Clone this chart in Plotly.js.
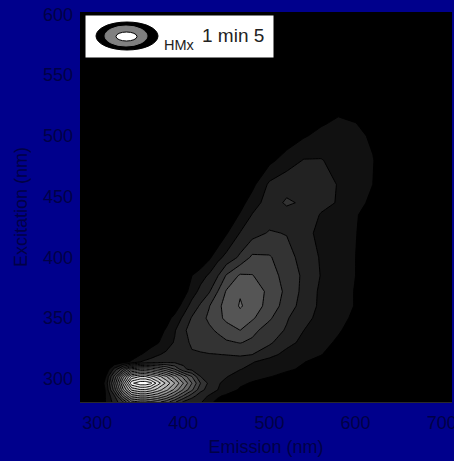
<!DOCTYPE html>
<html><head><meta charset="utf-8">
<script src="https://cdn.plot.ly/plotly-3.0.1.min.js"></script>
<style>html,body{margin:0;padding:0;background:#00008c;overflow:hidden}#c{width:454px;height:461px}</style>
</head><body><div id="c"></div>
<script>
const emission = [280,300,310,320,330,340,350,356,362,370,380,390,400,410,420,430,440,450,466,480,500,520,540,560,580,600,620,640,712];
const excitation = [281,286,291,296.5,302,308,314,320,330,340,350,360,372,385,400,420,435,445,460,480,500,510,520,602];
const r281 = [0,0,1.05,2.4,3.9,6.6,7,7,6.8,6.3,5.5,4.2,2.85,2.3,2.15,1.25,.75,.4,.1,0,0,0,0,0,0,0,0,0,0];
const r286 = [0,0,1.05,2.9,6.5,9.4,10,10,9.7,9.2,8.1,6.6,4.9,3.4,2.45,1.9,1.15,.8,.4,.1,0,0,0,0,0,0,0,0,0];
const r291 = [0,0,1.1,4.5,8.8,12.2,12.9,12.9,12.5,11.6,10.3,8.7,6.9,5.2,3.3,2.6,2,1.6,.85,.5,.2,0,0,0,0,0,0,0,0];
const r296 = [0,0,1.3,5.3,10.2,14.8,15.7,15.7,15.3,13.6,11.8,10,8,6,4,2.75,2.1,1.75,1.2,.9,.5,.3,0,0,0,0,0,0,0];
const r302 = [0,0,1,4.3,8.5,12.2,13,13,12.4,11.5,10.1,8.4,6.65,5,3,2.55,2.3,2.05,1.6,1.35,1.05,.7,.4,.1,0,0,0,0,0];
const r308 = [0,0,.2,2.3,4.6,7.4,8,8,7.8,7.1,6.2,5,3.2,2.7,2.45,2.35,2.25,2.15,2.03,1.8,1.4,1.15,.85,.5,.2,0,0,0,0];
const r314 = [0,0,0,.2,.6,1.15,2,2.25,2.4,2.6,2.7,2.75,2.8,2.8,2.75,2.7,2.65,2.6,2.4,2.05,1.7,1.3,1.03,.7,.3,0,0,0,0];
const r320 = [0,0,0,0,.1,.5,.95,1.2,1.55,1.9,2.2,2.4,2.6,2.85,2.9,2.95,2.98,3.02,3.15,3,2.25,1.75,1.4,1.03,.6,.2,0,0,0];
const r330 = [0,0,0,0,0,0,.15,.35,.55,.9,1.5,2.1,2.6,3.2,3.35,3.5,3.6,3.85,4.05,3.8,3.2,2.25,1.8,1.3,.85,.4,.1,0,0];
const r340 = [0,0,0,0,0,0,0,.05,.15,.6,1.1,1.9,2.9,3.2,3.5,3.8,4.15,4.6,5,4.3,3.5,2.9,2,1.55,1.1,.6,.1,0,0];
const r350 = [0,0,0,0,0,0,0,0,0,.1,.6,1.3,2.2,3.1,3.65,4.2,4.75,5.2,5.6,5.15,4.15,3.1,2.3,1.7,1.3,.8,.3,0,0];
const r360 = [0,0,0,0,0,0,0,0,0,0,0,.4,1.4,2.4,3.15,3.95,4.8,5.3,6.1,5.6,4.6,3.55,2.55,1.8,1.4,.95,.4,0,0];
const r372 = [0,0,0,0,0,0,0,0,0,0,0,0,.5,1.5,2.3,2.9,4,5.1,5.9,5.6,4.75,3.75,2.7,1.8,1.4,.95,.3,0,0];
const r385 = [0,0,0,0,0,0,0,0,0,0,0,0,.4,1,1.6,2.15,2.95,4.1,5.15,5.05,4.4,3.65,2.8,1.95,1.45,1,.3,0,0];
const r400 = [0,0,0,0,0,0,0,0,0,0,0,0,0,0,0,.8,1.7,2.3,3.2,4.2,4.1,3.4,2.6,1.9,1.5,1,.3,0,0];
const r420 = [0,0,0,0,0,0,0,0,0,0,0,0,0,0,0,0,0,.9,2.05,2.6,3.1,2.95,2.3,1.75,1.4,1.05,.4,0,0];
const r435 = [0,0,0,0,0,0,0,0,0,0,0,0,0,0,0,0,0,.15,1.1,2.05,2.5,2.6,2.4,1.95,1.45,1.1,.5,.05,0];
const r445 = [0,0,0,0,0,0,0,0,0,0,0,0,0,0,0,0,0,0,.6,1.5,2.5,3.15,2.85,2.2,1.95,1.3,.8,.3,0];
const r460 = [0,0,0,0,0,0,0,0,0,0,0,0,0,0,0,0,0,0,0,.7,2.2,2.6,2.6,2.4,1.95,1.45,1,.3,0];
const r480 = [0,0,0,0,0,0,0,0,0,0,0,0,0,0,0,0,0,0,0,0,.7,1.5,2.05,2.05,1.7,1.4,1.05,.3,0];
const r500 = [0,0,0,0,0,0,0,0,0,0,0,0,0,0,0,0,0,0,0,0,0,.3,.9,1.3,1.4,1.25,.85,.2,0];
const r510 = [0,0,0,0,0,0,0,0,0,0,0,0,0,0,0,0,0,0,0,0,0,0,.5,.9,1.2,1.05,.4,0,0];
const r520 = [0,0,0,0,0,0,0,0,0,0,0,0,0,0,0,0,0,0,0,0,0,0,0,.4,.85,.5,0,0,0];
const r602 = [0,0,0,0,0,0,0,0,0,0,0,0,0,0,0,0,0,0,0,0,0,0,0,0,0,0,0,0,0];
const intensity = [r281,r286,r291,r296,r302,r308,r314,r320,r330,r340,r350,r360,r372,r385,r400,r420,r435,r445,r460,r480,r500,r510,r520,r602];
const xTicks = [300,400,500,600,700];
const yTicks = [300,350,400,450,500,550,600];
const xName = 'Emission (nm)';
const yName = 'Excitation (nm)';
const sampleName = 'HMx';
const sampleNote = '1 min 5';

const P = {l:80,r:452,t:12,b:402};
const px = v => (v-P.l)/(P.r-P.l);
const py = v => (P.b-v)/(P.b-P.t);
const ell = (x0,y0,x1,y1,fill,line) => ({type:'circle',xref:'paper',yref:'paper',x0:px(x0),x1:px(x1),y0:py(y0),y1:py(y1),fillcolor:fill,line:{color:line||fill,width:1},layer:'above'});
const font = 'Liberation Sans, Arial, sans-serif';
const ink = '#000046';

Plotly.newPlot('c',[{
  type:'contour',x:emission,y:excitation,z:intensity,
  autocontour:false,contours:{start:1,end:15,size:1,coloring:'fill',showlines:true},
  line:{color:'#000',width:1,smoothing:0},
  zmin:0.5,zmax:15.5,zauto:false,colorscale:[[0,'#000'],[1,'#fff']],showscale:false,hoverinfo:'skip'
}],{
  width:454,height:461,
  margin:{l:P.l,r:454-P.r,t:P.t,b:461-P.b,pad:0},
  paper_bgcolor:'#00008c',plot_bgcolor:'#000',
  font:{family:font,size:18,color:ink},
  xaxis:{range:[280,712],tickvals:xTicks,ticks:'',showgrid:false,zeroline:false,showline:true,linecolor:'#2a2a2a',linewidth:1,
    ticklabelstandoff:4,ticklabeloverflow:'allow',
    tickfont:{size:18,color:ink,family:font},title:{text:xName,font:{size:18,color:ink,family:font},standoff:8}},
  yaxis:{range:[281,602],tickvals:yTicks,ticks:'',showgrid:false,zeroline:false,showline:false,
    ticklabelstandoff:6,ticklabeloverflow:'allow',
    tickfont:{size:18,color:ink,family:font},title:{text:yName,font:{size:18,color:ink,family:font},standoff:10}},
  shapes:[
    {type:'rect',xref:'paper',yref:'paper',x0:px(85),x1:px(274),y0:py(58),y1:py(15),fillcolor:'#fff',line:{color:'#000',width:1},layer:'above'},
    ell(96,22,158,50,'#000'),
    ell(105,26,147,46,'#808080'),
    ell(116,32,137,41,'#fff','#000')
  ],
  annotations:[
    {xref:'paper',yref:'paper',x:px(162),y:py(45),xanchor:'left',yanchor:'middle',text:sampleName,showarrow:false,font:{size:14.5,color:'#222',family:font}},
    {xref:'paper',yref:'paper',x:px(200),y:py(35),xanchor:'left',yanchor:'middle',text:sampleNote,showarrow:false,font:{size:19,color:'#222',family:font}}
  ]
},{staticPlot:true});
</script></body></html>
